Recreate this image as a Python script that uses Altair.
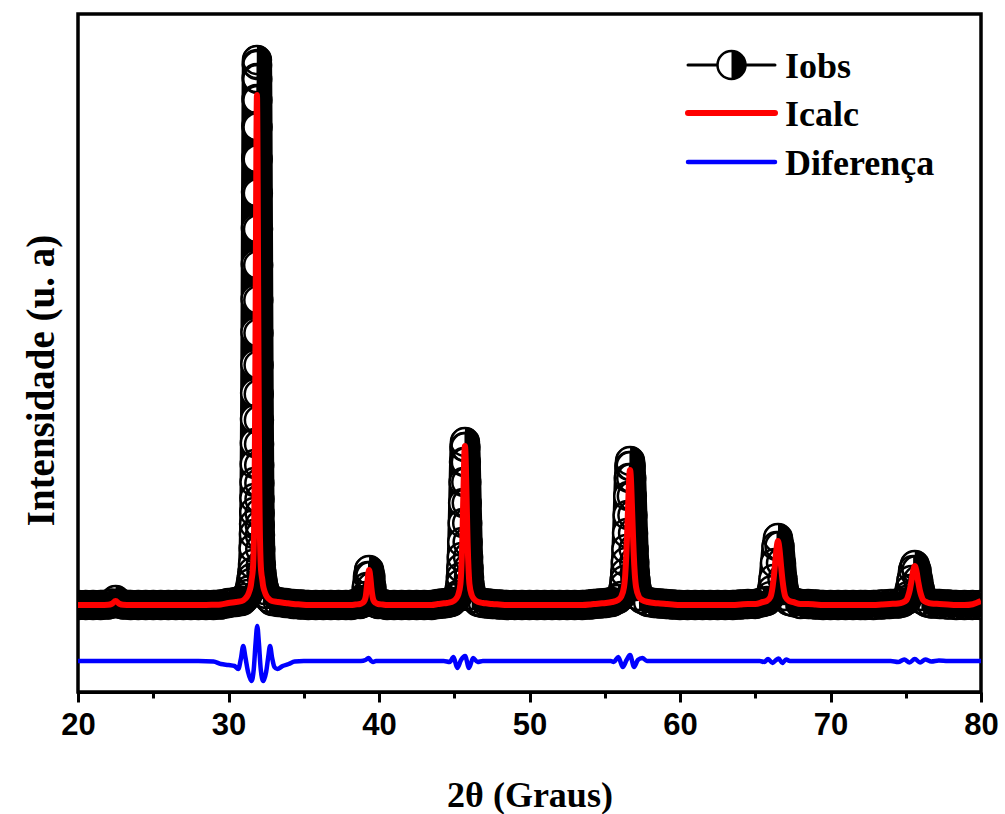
import altair as alt
import pandas as pd

# ---------------- data ----------------
# 2theta grid (deg) shared by observed and calculated intensities
TWO_THETA = [
    20.0, 20.5, 21.0, 21.5, 22.0, 22.25, 22.5, 22.75, 23.0, 23.5, 24.0, 24.5, 25.0, 25.5, 26.0, 26.5, 27.0, 27.5, 28.0, 28.5, 29.0, 29.5,
    30.0, 30.49, 30.89, 31.09, 31.29, 31.39, 31.49, 31.54, 31.59, 31.63, 31.67,
    31.69, 31.70, 31.71, 31.72, 31.73, 31.74, 31.75, 31.76, 31.77, 31.78,
    31.79, 31.80, 31.81, 31.82, 31.83, 31.84, 31.85, 31.86, 31.87, 31.88,
    31.89,
    31.90, 31.91, 31.92, 31.93, 31.94, 31.95, 31.96, 31.97, 31.98, 31.99,
    32.00, 32.01, 32.02, 32.03, 32.04, 32.05, 32.06, 32.07, 32.08, 32.09,
    32.11, 32.15, 32.19, 32.24, 32.29, 32.39, 32.49, 32.69, 32.89, 33.29, 33.79,
    34.3, 34.8, 35.3, 35.8, 36.3, 36.8, 37.3, 37.8,
    38.14, 38.44, 38.74, 38.89, 39.04, 39.12, 39.19, 39.27, 39.34, 39.42, 39.49, 39.57, 39.64, 39.79, 39.94, 40.24, 40.54,
    41.0, 41.5, 42.0, 42.5, 43.0, 43.5,
    43.91, 44.21, 44.51, 44.81, 45.11, 45.26,
    45.41, 45.44, 45.47, 45.50, 45.53, 45.56, 45.59, 45.62, 45.65, 45.68,
    45.71,
    45.74, 45.77, 45.80, 45.83, 45.86, 45.89, 45.92, 45.95, 45.98, 46.01,
    46.16, 46.31, 46.61, 46.91, 47.21, 47.51,
    48.0, 48.5, 49.0, 49.5, 50.0, 50.5, 51.0, 51.5, 52.0, 52.5, 53.0, 53.5, 54.0,
    54.28, 54.68, 55.08, 55.48, 55.88, 56.08,
    56.28, 56.32, 56.36, 56.40, 56.44, 56.48, 56.52, 56.56, 56.60, 56.64,
    56.68,
    56.72, 56.76, 56.80, 56.84, 56.88, 56.92, 56.96, 57.00, 57.04, 57.08,
    57.28, 57.48, 57.88, 58.28, 58.68, 59.08,
    59.5, 60.0, 60.5, 61.0, 61.5, 62.0, 62.5, 63.0,
    63.51, 64.01, 64.51, 65.01, 65.51, 65.76, 66.01, 66.11, 66.21, 66.31, 66.41, 66.51, 66.61, 66.71, 66.81, 66.91, 67.01, 67.26, 67.51, 68.01, 68.51, 69.01, 69.51,
    70.0, 70.5, 71.0, 71.5, 72.0,
    72.3, 72.85, 73.4, 73.95, 74.5, 74.78, 75.05, 75.16, 75.27, 75.38, 75.49, 75.6, 75.71, 75.82, 75.93, 76.04, 76.15, 76.43, 76.7, 77.25, 77.8, 78.35, 78.9,
    79.45, 80.0,
]

I_OBS = [
    100, 100, 100, 100, 105, 115, 150, 115, 105, 100, 100, 100, 100, 100, 100, 100, 100, 100, 100, 100, 100, 105,
    120, 130, 140, 170, 210, 250, 320, 370, 430, 510, 670,
    810, 910, 1030, 1170, 1330, 1510, 1720, 1960, 2220, 2510,
    2830, 3160, 3510, 3870, 4230, 4570, 4890, 5160, 5370, 5510,
    5550,
    5500, 5360, 5150, 4880, 4560, 4220, 3860, 3500, 3150, 2820,
    2500, 2210, 1950, 1710, 1500, 1320, 1160, 1020, 900, 800,
    660, 500, 420, 360, 310, 250, 210, 170, 140, 130, 120,
    110, 105, 100, 100, 100, 100, 100, 100,
    100, 110, 110, 120, 150, 190, 280, 390, 450, 390, 280, 190, 150, 120, 110, 110, 100,
    100, 100, 100, 100, 100, 100,
    110, 115, 120, 130, 170, 200,
    310, 380, 470, 580, 730, 920, 1120, 1330, 1530, 1680,
    1730,
    1680, 1530, 1330, 1120, 920, 730, 580, 470, 380, 310,
    200, 170, 130, 120, 115, 110,
    105, 100, 100, 100, 100, 100, 100, 100, 100, 100, 100, 100, 105,
    110, 115, 120, 130, 160, 190,
    290, 350, 420, 530, 660, 820, 1000, 1190, 1370, 1490,
    1540,
    1490, 1370, 1190, 1000, 820, 660, 530, 420, 350, 290,
    190, 160, 130, 120, 115, 110,
    105, 100, 100, 100, 100, 100, 100, 100,
    100, 105, 110, 110, 130, 140, 190, 250, 360, 520, 690, 770, 690, 520, 360, 250, 190, 140, 130, 110, 110, 105, 100,
    100, 100, 100, 100, 100,
    100, 100, 105, 110, 115, 125, 150, 190, 260, 350, 450, 500, 450, 350, 260, 190, 150, 125, 115, 110, 105, 100, 100,
    100, 100,
]

I_CALC = [
    100, 100, 100, 100, 102, 112, 140, 112, 102, 100, 100, 100, 100, 100, 100, 100, 100, 100, 100, 100, 102, 105,
    120, 130, 140, 160, 200, 240, 300, 360, 410, 480, 640,
    770, 860, 970, 1100, 1250, 1420, 1610, 1840, 2080, 2350,
    2650, 2960, 3290, 3630, 3960, 4280, 4580, 4830, 5030, 5160,
    5200,
    5160, 5030, 4830, 4580, 4280, 3960, 3630, 3290, 2960, 2650,
    2350, 2080, 1840, 1610, 1420, 1250, 1100, 970, 860, 770,
    640, 480, 410, 360, 300, 240, 200, 160, 140, 130, 120,
    110, 105, 100, 100, 100, 100, 100, 100,
    100, 105, 110, 120, 145, 185, 275, 385, 450, 385, 275, 185, 145, 120, 110, 105, 100,
    100, 100, 100, 100, 100, 100,
    110, 115, 120, 130, 160, 200,
    310, 370, 460, 570, 720, 900, 1100, 1300, 1500, 1640,
    1690,
    1640, 1500, 1300, 1100, 900, 720, 570, 460, 370, 310,
    200, 160, 130, 120, 115, 110,
    105, 100, 100, 100, 100, 100, 100, 100, 100, 100, 100, 100, 105,
    110, 115, 120, 130, 150, 180,
    280, 330, 400, 500, 630, 780, 950, 1120, 1290, 1410,
    1450,
    1410, 1290, 1120, 950, 780, 630, 500, 400, 330, 280,
    180, 150, 130, 120, 115, 110,
    105, 100, 100, 100, 100, 100, 100, 100,
    100, 105, 110, 110, 130, 140, 180, 240, 350, 500, 660, 740, 660, 500, 350, 240, 180, 140, 130, 110, 110, 105, 100,
    100, 100, 100, 100, 100,
    100, 100, 105, 110, 115, 125, 150, 190, 250, 340, 440, 490, 440, 340, 250, 190, 150, 125, 115, 110, 105, 100, 100,
    108, 140,
]

# difference curve (Iobs - Icalc), its own 2theta points
DIFF_X = [
    20.0, 21.0, 22.2, 22.5, 22.8, 24.0, 26.0, 28.0, 29.0, 29.5, 30.0, 30.4,
    30.65, 30.82, 30.98, 31.12, 31.3, 31.54, 31.68, 31.8, 31.91, 32.02, 32.14, 32.31, 32.5, 32.64, 32.76, 32.9, 33.05, 33.24,
    33.6, 34.0, 34.4, 35.0, 37.0, 38.8, 39.1, 39.3, 39.45, 39.6, 39.8, 42.0,
    44.3, 44.7, 44.95, 45.2, 45.45, 45.72, 45.98, 46.25, 46.55, 46.9, 50.0, 53.0,
    55.4, 55.6, 55.9, 56.2, 56.45, 56.68, 56.95, 57.2, 57.5, 57.8, 60.0, 63.0,
    65.3, 65.6, 65.85, 66.15, 66.35, 66.55, 66.8, 67.05, 67.3, 70.0,
    74.0, 74.5, 74.9, 75.25, 75.6, 75.95, 76.3, 76.7, 77.2, 77.8, 80.0,
]
DIFF_Y = [
    0, 0, 0, 0, 0, 0, 0, 0, -5, -30, -40, -50,
    -80, 20, 150, 40, -110, -200, -80, 180, 350, 180, -80, -200, -110, 40, 150, 30, -60, -80,
    -50, -30, -5, 0, 0, 0, 10, 30, 5, -10, 0, 0,
    0, -10, 40, -70, 10, 50, -70, 30, -10, 0, 0, 0,
    0, -10, 40, -60, 10, 60, -60, 10, 30, 0, 0, 0,
    0, -10, 20, -20, 5, 25, -20, 15, 0, 0,
    0, -10, 15, -15, 20, -15, 15, -5, 5, 0, 0,
]
DIFF_OFFSET = -460          # vertical shift of the difference curve

X_TICKS = [20, 25, 30, 35, 40, 45, 50, 55, 60, 65, 70, 75, 80]
Y_DOMAIN = [-770, 6010]

LEG_LABELS = ["Iobs", "Icalc", "Diferença"]
LEG_COLORS = ["#000000", "#ff0000", "#0000ff"]

for a, b in ((TWO_THETA, I_OBS), (TWO_THETA, I_CALC), (DIFF_X, DIFF_Y)):
    if len(a) != len(b):
        raise SystemExit(f"length mismatch {len(a)} vs {len(b)}")

# ---------------- styles ----------------
W, H = 903, 678
MARKER = 784                      # symbol size (diameter 28 px)
HALF_PATH = "M0,-1A1,1,0,0,1,0,1Z"  # right half disc
SERIF = "Liberation Serif"
SANS = "Liberation Sans"

df = pd.DataFrame({"tt": TWO_THETA, "obs": I_OBS, "calc": I_CALC})
dfd = pd.DataFrame({"tt": DIFF_X, "diff": [v + DIFF_OFFSET for v in DIFF_Y]})

x_axis = alt.Axis(
    values=X_TICKS,
    labelExpr="datum.value % 10 === 0 ? datum.label : ''",
    tickSize={"condition": {"test": "datum.value % 10 === 0", "value": 10}, "value": 6},
    tickWidth=3, tickColor="black", domainColor="black", domainWidth=3,
    labelFont=SANS, labelFontSize=31, labelFontWeight="bold", labelColor="black",
    labelPadding=8, labelFlush=False, labelOverlap=False, grid=False,
    title="2θ (Graus)", titleFont=SERIF, titleFontSize=36, titleFontWeight="bold",
    titleColor="black", titleX=W / 2, titleY=114, titleAlign="center",
    titleBaseline="alphabetic",
)
y_axis = alt.Axis(
    labels=False, ticks=False, domain=False, grid=False,
    title="Intensidade (u. a)", titleFont=SERIF, titleFontSize=39,
    titleFontWeight="bold", titleColor="black", titleAngle=270,
    titleX=-37, titleY=366, titleAlign="center", titleBaseline="middle",
)


def X():
    return alt.X("tt:Q", scale=alt.Scale(domain=[20, 80], nice=False, zero=False),
                 axis=x_axis, title="2θ (Graus)")


def Y(field):
    return alt.Y(f"{field}:Q", scale=alt.Scale(domain=Y_DOMAIN, nice=False, zero=False),
                 axis=y_axis, title="Intensidade (u. a)")


underlay = alt.Chart(df).mark_line(
    color="black", strokeWidth=30, strokeCap="round", strokeJoin="round", clip=True
).encode(x=X(), y=Y("obs"))

white = alt.Chart(df).mark_point(
    shape="circle", filled=True, fill="white", size=MARKER, strokeWidth=0,
    opacity=1, clip=True
).encode(x=X(), y=Y("obs"))

ring = alt.Chart(df).mark_point(
    shape="circle", filled=False, stroke="black", size=MARKER, strokeWidth=2.5,
    opacity=1, clip=True
).encode(x=X(), y=Y("obs"))

half = alt.Chart(df).mark_point(
    shape=HALF_PATH, filled=True, fill="black", size=MARKER, strokeWidth=0,
    opacity=1, clip=True
).encode(x=X(), y=Y("obs"))

calc = alt.Chart(df).mark_line(
    color="#ff0000", strokeWidth=6, interpolate="monotone", clip=True
).encode(x=X(), y=Y("calc"))

diff = alt.Chart(dfd).mark_line(
    color="#0000ff", strokeWidth=4.5, interpolate="monotone", clip=True
).encode(x=X(), y=Y("diff"))

# ---------------- legend (drawn by hand) ----------------
LEG_X1, LEG_X2, LEG_TX = 610, 697, 707
LEG_ROWS = [51, 99, 148]
LEG_W = [3, 6, 4.5]
legend_layers = []
for lab, col, ry, lw in zip(LEG_LABELS, LEG_COLORS, LEG_ROWS, LEG_W):
    d1 = pd.DataFrame({"label": [lab]})
    legend_layers.append(
        alt.Chart(d1).mark_rule(color=col, strokeWidth=lw, strokeCap="round").encode(
            x=alt.value(LEG_X1), x2=alt.value(LEG_X2), y=alt.value(ry))
    )
    if lab == "Iobs":
        cx = (LEG_X1 + LEG_X2) / 2
        legend_layers.append(alt.Chart(d1).mark_point(
            shape="circle", filled=True, fill="white", size=MARKER, strokeWidth=0, opacity=1
        ).encode(x=alt.value(cx), y=alt.value(ry)))
        legend_layers.append(alt.Chart(d1).mark_point(
            shape="circle", filled=False, stroke="black", size=MARKER, strokeWidth=2.5, opacity=1
        ).encode(x=alt.value(cx), y=alt.value(ry)))
        legend_layers.append(alt.Chart(d1).mark_point(
            shape=HALF_PATH, filled=True, fill="black", size=MARKER, strokeWidth=0, opacity=1
        ).encode(x=alt.value(cx), y=alt.value(ry)))
    legend_layers.append(
        alt.Chart(d1).mark_text(
            align="left", baseline="alphabetic", font=SERIF, fontSize=36,
            fontWeight="bold", color="black"
        ).encode(text="label:N", x=alt.value(LEG_TX), y=alt.value(ry + 13))
    )

chart = alt.layer(underlay, white, ring, half, calc, diff, *legend_layers).properties(
    width=W, height=H,
    autosize=alt.AutoSizeParams(type="none"),
    padding={"left": 78, "top": 14, "right": 24, "bottom": 122},
    background="white",
).configure_view(stroke="black", strokeWidth=3.5)

chart.save("out.html", embed_options={"renderer": "svg", "actions": False})
